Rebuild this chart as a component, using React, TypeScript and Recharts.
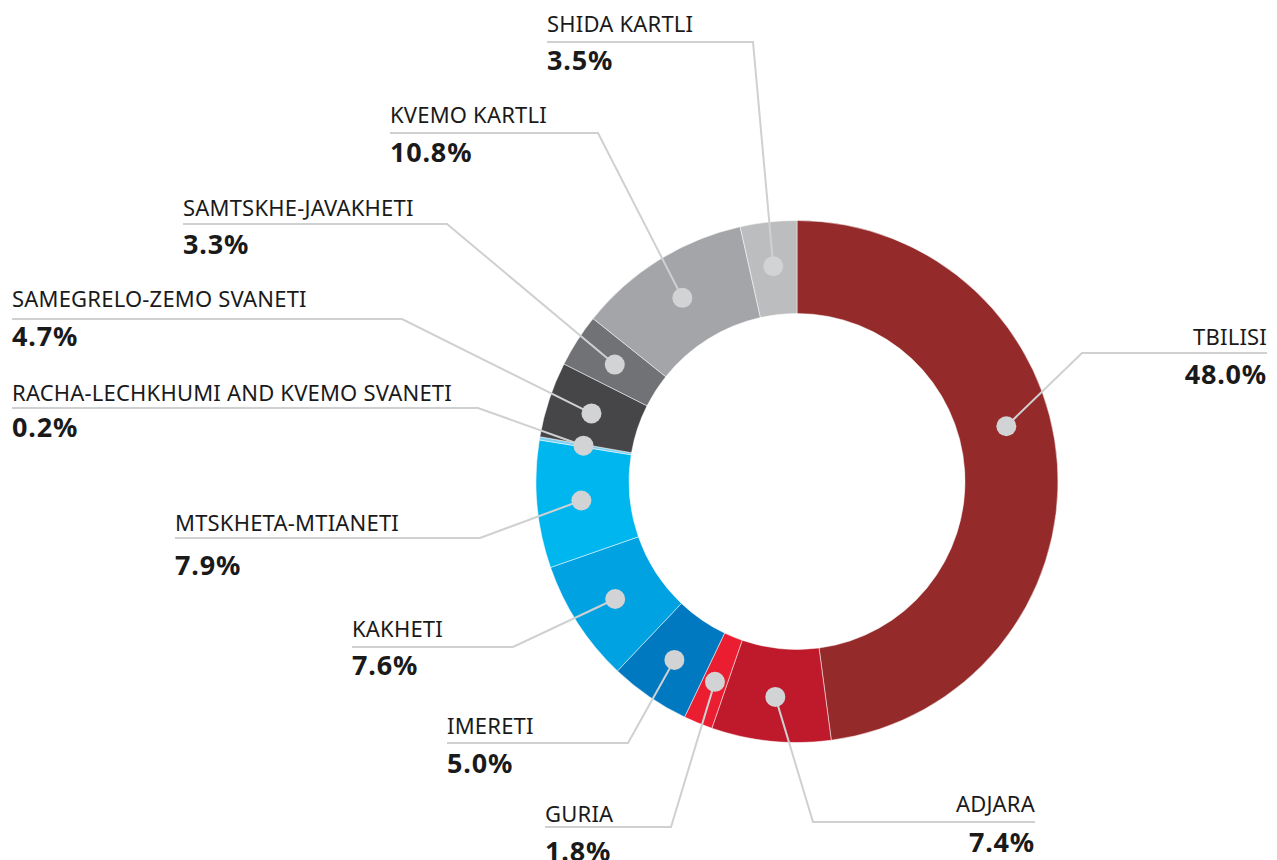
import { PieChart, Pie, Cell } from 'recharts';

const regions = [
  'TBILISI',
  'ADJARA',
  'GURIA',
  'IMERETI',
  'KAKHETI',
  'MTSKHETA-MTIANETI',
  'RACHA-LECHKHUMI AND KVEMO SVANETI',
  'SAMEGRELO-ZEMO SVANETI',
  'SAMTSKHE-JAVAKHETI',
  'KVEMO KARTLI',
  'SHIDA KARTLI',
];
const shares = [48.0, 7.4, 1.8, 5.0, 7.6, 7.9, 0.2, 4.7, 3.3, 10.8, 3.5];
const sliceColors = [
  '#952a2b', '#be1a2b', '#eb1d31', '#0079c1', '#00a2e2', '#00b6ee',
  '#80d0f4', '#464648', '#717275', '#a4a5a8', '#bcbdbf',
];

// label placement only (anchor x, leader elbow, text baselines)
type Lay = { x: number; anchor: 'start' | 'end'; elbowX: number; lineY: number; nameY: number; pctY: number; shift?: number };
const labelLayout: Lay[] = [
  { x: 1267, anchor: 'end', elbowX: 1082, lineY: 353, nameY: 345, pctY: 384, shift: 11 },
  { x: 1035, anchor: 'end', elbowX: 813, lineY: 822, nameY: 812, pctY: 852 },
  { x: 545, anchor: 'start', elbowX: 671, lineY: 827, nameY: 822, pctY: 861 },
  { x: 447, anchor: 'start', elbowX: 628, lineY: 743, nameY: 734, pctY: 773 },
  { x: 352, anchor: 'start', elbowX: 513, lineY: 647, nameY: 637, pctY: 675 },
  { x: 175, anchor: 'start', elbowX: 480, lineY: 538, nameY: 531, pctY: 575 },
  { x: 12, anchor: 'start', elbowX: 478, lineY: 408, nameY: 401, pctY: 437 },
  { x: 12, anchor: 'start', elbowX: 402, lineY: 319, nameY: 307, pctY: 346 },
  { x: 183, anchor: 'start', elbowX: 447, lineY: 224, nameY: 216, pctY: 254 },
  { x: 390, anchor: 'start', elbowX: 598, lineY: 133, nameY: 123, pctY: 162 },
  { x: 547, anchor: 'start', elbowX: 753, lineY: 42, nameY: 32, pctY: 70 },
];

const data = regions.map((name, i) => ({ name, value: shares[i] }));

const FONT = '"Noto Sans", "Open Sans", sans-serif';
const RAD = Math.PI / 180;

function SliceLabel(props: any) {
  const { cx, cy, midAngle, innerRadius, outerRadius, index } = props;
  const lay = labelLayout[index];
  const a = (midAngle + (lay.shift ?? 0)) * RAD;
  const r = (innerRadius + outerRadius) / 2 + 2;
  const px = cx + r * Math.cos(a);
  const py = cy - r * Math.sin(a);
  const points = `${px},${py} ${lay.elbowX},${lay.lineY} ${lay.x},${lay.lineY}`;
  return (
    <g>
      <polyline points={points} fill="none" stroke="#cfd0d2" strokeWidth={2} />
      <circle cx={px} cy={py} r={10} fill="#d1d3d4" />
      <text x={lay.x} y={lay.nameY} textAnchor={lay.anchor} fontFamily={FONT} fontSize={22} letterSpacing={0.2} fill="#1a1a1a">
        {regions[index]}
      </text>
      <text x={lay.x} y={lay.pctY} textAnchor={lay.anchor} fontFamily={FONT} fontSize={27} fontWeight={700} letterSpacing={0.8} fill="#1a1a1a">
        {shares[index].toFixed(1)}%
      </text>
    </g>
  );
}

export default function App() {
  return (
    <div style={{ width: 1277, height: 860, background: '#fff' }}>
      <style>{'body{margin:0}'}</style>
      <PieChart width={1277} height={860} margin={{ top: 0, right: 0, bottom: 0, left: 0 }}>
        <Pie
          data={data}
          dataKey="value"
          nameKey="name"
          cx={797}
          cy={481.5}
          innerRadius={168}
          outerRadius={261}
          startAngle={90}
          endAngle={-270}
          stroke="#ffffff"
          strokeWidth={0.5}
          label={SliceLabel}
          labelLine={false}
          isAnimationActive={false}
        >
          {data.map((d, i) => (
            <Cell key={d.name} fill={sliceColors[i]} />
          ))}
        </Pie>
      </PieChart>
    </div>
  );
}
